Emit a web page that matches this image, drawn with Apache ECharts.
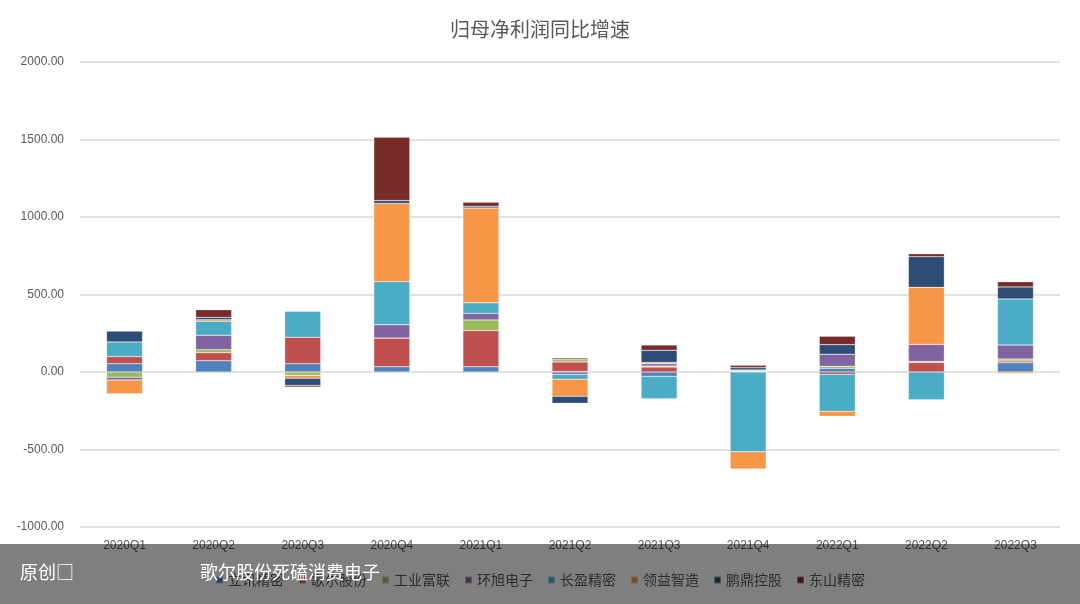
<!DOCTYPE html>
<html>
<head>
<meta charset="utf-8">
<script src="https://cdn.jsdelivr.net/npm/echarts@6/dist/echarts.min.js"></script>
<style>html,body{margin:0;padding:0;background:#fff}#main{width:1080px;height:604px}</style>
</head>
<body>
<div id="main"></div>
<script>
// 季度
const quarters = ['2020Q1', '2020Q2', '2020Q3', '2020Q4', '2021Q1', '2021Q2', '2021Q3', '2021Q4', '2022Q1', '2022Q2', '2022Q3']
const names = ['立讯精密', '歌尔股份', '工业富联', '环旭电子', '长盈精密', '领益智造', '鹏鼎控股', '东山精密']
const colors = ['#4f81bd', '#c0504d', '#9bbb59', '#8064a2', '#4bacc6', '#f79646', '#2c4d75', '#772c2a']

// 各公司归母净利润同比增速 (%)
const lixun   = [54, 73, 54, 34, 34, 3, -28, 0, 24, 0, 60]
const goertek = [45, 52, 170, 185, 233, 62, 32, 3, -15, 62, 11]
const fii     = [-34, 19, -22, 0, 69, 15, 6, 5, 13, 6, 13]
const usi     = [-17, 93, 0, 86, 43, -15, 15, 5, 78, 110, 90]
const everwin = [95, 91, 168, 278, 67, -32, -144, -515, -239, -179, 297]
const lingyi  = [-90, 9, -19, 504, 612, -110, 9, -110, -32, 368, -10]
const avary   = [71, 15, -45, 19, 11, -45, 78, 15, 62, 198, 78]
const dsbj    = [0, 50, -11, 409, 26, 10, 34, 15, 54, 19, 34]
const seriesData = [lixun, goertek, fii, usi, everwin, lingyi, avary, dsbj]

const myChart = echarts.init(document.getElementById('main'))
const option = {
  animation: false,
  color: colors,
  title: {
    text: '归母净利润同比增速',
    left: 'center',
    top: 14,
    textStyle: { fontSize: 20, fontWeight: 'normal', color: '#595959', fontFamily: 'Noto Sans CJK SC' }
  },
  legend: {
    data: names,
    bottom: 12,
    icon: 'rect',
    itemWidth: 7,
    itemHeight: 7,
    itemGap: 14,
    textStyle: { color: '#595959', fontSize: 14, fontFamily: 'Noto Sans CJK SC' }
  },
  grid: { left: 80, right: 20, top: 62, bottom: 77 },
  xAxis: {
    type: 'category',
    data: quarters,
    axisTick: { show: false },
    axisLine: { show: false },
    axisLabel: { color: '#595959', fontSize: 12, margin: 13 }
  },
  yAxis: {
    type: 'value',
    min: -1000,
    max: 2000,
    interval: 500,
    axisLabel: { color: '#595959', fontSize: 12, margin: 16, formatter: v => v.toFixed(2) },
    splitLine: { lineStyle: { color: '#d9d9d9', width: 1.5 } }
  },
  series: names.map((n, i) => ({
    name: n,
    type: 'bar',
    stack: 'total',
    barWidth: 36,
    data: seriesData[i],
    itemStyle: { borderColor: 'rgba(255,255,255,0.5)', borderWidth: 0.5 }
  })),
  graphic: [
    { type: 'rect', left: 0, top: 544, shape: { width: 1080, height: 60 }, style: { fill: 'rgba(0,0,0,0.5)' }, z: 100 },
    { type: 'text', left: 20, top: 563, style: { text: '原创□', fill: '#fff', font: '18px "Noto Sans CJK SC"' }, z: 101 },
    { type: 'text', left: 200, top: 563, style: { text: '歌尔股份死磕消费电子', fill: '#fff', font: '18px "Noto Sans CJK SC"' }, z: 101 }
  ]
}
myChart.setOption(option)
</script>
</body>
</html>
